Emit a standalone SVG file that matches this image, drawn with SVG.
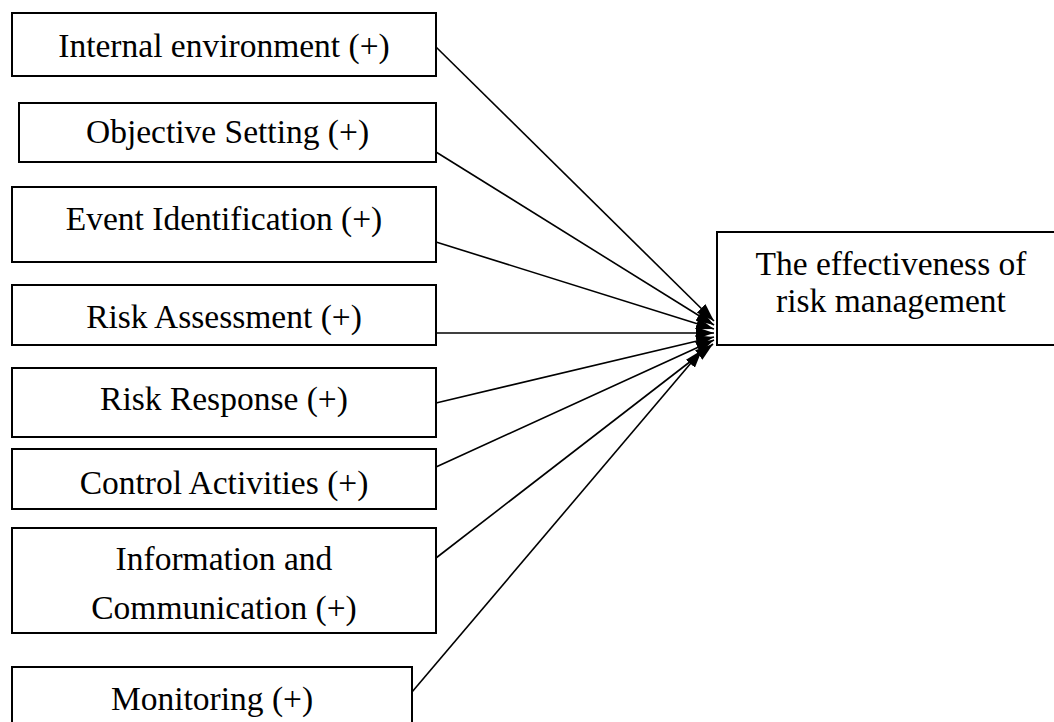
<svg xmlns="http://www.w3.org/2000/svg" width="1054" height="722" viewBox="0 0 1054 722">
<style>
.box{fill:#fff;stroke:#000;stroke-width:2}
.t{font-family:"Liberation Serif","Times New Roman",serif;font-size:33.5px;fill:#000;text-anchor:middle}
.c{stroke:#000;stroke-width:1.6;fill:none;marker-end:url(#ah)}
</style>
<defs>
<marker id="ah" markerUnits="userSpaceOnUse" markerWidth="18" markerHeight="12" viewBox="0 0 18 12" refX="18" refY="6" orient="auto">
<path d="M0,0 L18,6 L0,12 Z" fill="#000"/>
</marker>
</defs>
<rect width="1054" height="722" fill="#fff"/>
<g id="n1"><rect class="box" x="12" y="13" width="424" height="63"/><text class="t" x="224" y="57">Internal environment (+)</text></g>
<g id="n2"><rect class="box" x="19" y="103" width="417" height="59"/><text class="t" x="227.5" y="143">Objective Setting (+)</text></g>
<g id="n3"><rect class="box" x="12" y="187" width="424" height="75"/><text class="t" x="224" y="230">Event Identification (+)</text></g>
<g id="n4"><rect class="box" x="12" y="285" width="424" height="60"/><text class="t" x="224" y="328">Risk Assessment (+)</text></g>
<g id="n5"><rect class="box" x="12" y="368" width="424" height="69"/><text class="t" x="224" y="410">Risk Response (+)</text></g>
<g id="n6"><rect class="box" x="12" y="449" width="424" height="60"/><text class="t" x="224" y="494">Control Activities (+)</text></g>
<g id="n7"><rect class="box" x="12" y="528" width="424" height="105"/><text class="t" x="224" y="570">Information and</text><text class="t" x="224" y="619">Communication (+)</text></g>
<g id="n8"><rect class="box" x="12" y="667" width="400" height="70"/><text class="t" x="212" y="710">Monitoring (+)</text></g>
<g id="target"><rect class="box" x="717" y="232" width="350" height="113"/><text class="t" x="891" y="275">The effectiveness of</text><text class="t" x="891" y="312">risk management</text></g>
<g id="connectors">
<line class="c" x1="436" y1="47" x2="714" y2="321"/>
<line class="c" x1="436" y1="152" x2="714" y2="325"/>
<line class="c" x1="436" y1="242" x2="714" y2="329"/>
<line class="c" x1="436" y1="333" x2="714" y2="333"/>
<line class="c" x1="436" y1="403" x2="714" y2="337"/>
<line class="c" x1="436" y1="467" x2="714" y2="340"/>
<line class="c" x1="436" y1="558" x2="713" y2="344"/>
<line class="c" x1="412" y1="692" x2="702" y2="350"/>
</g>
</svg>
